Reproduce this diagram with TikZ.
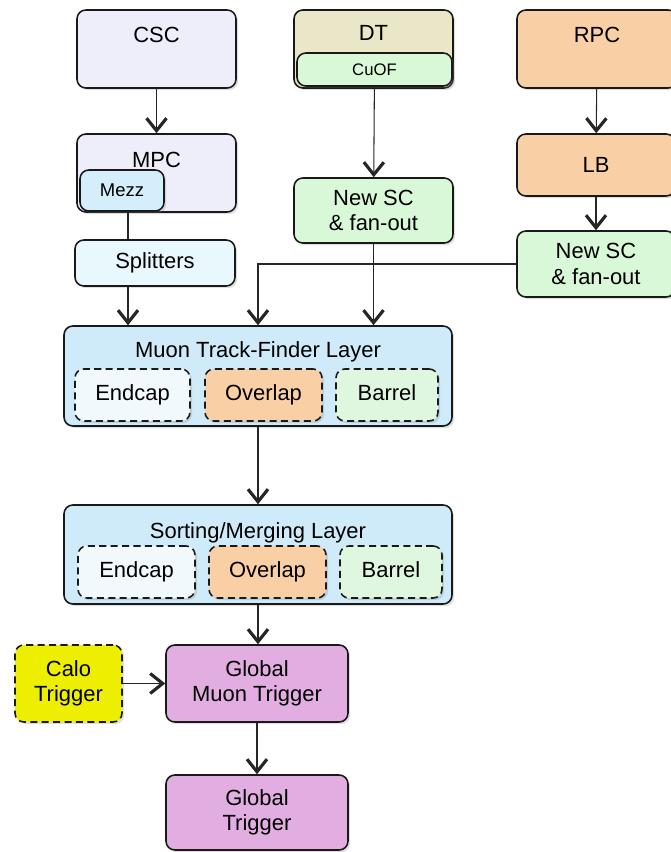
\documentclass[tikz,border=0pt]{standalone}
\usepackage{fontspec}
\setmainfont{Liberation Sans}
\usetikzlibrary{positioning,arrows.meta,shadows}

\definecolor{cscfill}{HTML}{EEEEFB}
\definecolor{dtfill}{HTML}{EAE6C8}
\definecolor{rpcfill}{HTML}{F9D0A6}
\definecolor{greenfill}{HTML}{D8F8D8}
\definecolor{mezzfill}{HTML}{D4EFFB}
\definecolor{splitfill}{HTML}{E8F8FC}
\definecolor{layerfill}{HTML}{CFEBFA}
\definecolor{endcapfill}{HTML}{F2F9FC}
\definecolor{barrelfill}{HTML}{DFF6DF}
\definecolor{calofill}{HTML}{EEEE00}
\definecolor{globalfill}{HTML}{E2AEE2}

\begin{document}
\begin{tikzpicture}[
    x=0.02cm, y=-0.02cm,
    box/.style={
        draw=black!90,
        line width=0.9pt,
        rounded corners=5pt,
        align=center,
        inner sep=1pt,
        font=\fontsize{12.5}{14.5}\selectfont,
        drop shadow={shadow xshift=1.2pt, shadow yshift=-1.2pt, opacity=0.25}
    },
    subbox/.style={
        box,
        dashed,
        dash pattern=on 4pt off 2.5pt,
        minimum height=1.04cm
    },
    slot/.style={
        subbox,
        text height=9pt,
        text depth=3pt
    },
    title/.style={
        font=\fontsize{12.5}{14.5}\selectfont,
        inner sep=0pt
    },
    link/.style={
        draw=black!85,
        line width=0.6pt
    },
    arrow/.style={
        link,
        -{Straight Barb[length=2.5mm, width=4mm, line width=1.8pt]}
    }
]
\useasboundingbox (0,0) rectangle (670,852);

\node[box, fill=cscfill, minimum width=3.18cm, minimum height=1.56cm] (csc) at (156.5,49) {};
\node[title] (csc-t) at (156.5,35) {CSC};

\node[box, fill=dtfill, minimum width=3.18cm, minimum height=1.56cm] (dt) at (373.5,49) {};
\node[title] (dt-t) at (373.5,33) {DT};
\node[box, fill=greenfill, minimum width=3.1cm, minimum height=0.66cm, font=\fontsize{9.5}{11}\selectfont] (cuof) at (374.5,69.5) {CuOF};

\node[box, fill=rpcfill, minimum width=3.2cm, minimum height=1.56cm] (rpc) at (597,49) {};
\node[title] (rpc-t) at (597,35) {RPC};

\node[box, fill=cscfill, minimum width=3.18cm, minimum height=1.56cm] (mpc) at (156.5,173) {};
\node[title] (mpc-t) at (156.5,160) {MPC};
\node[box, fill=mezzfill, minimum width=1.68cm, minimum height=0.82cm, font=\fontsize{10.5}{12}\selectfont] (mezz) at (122,190.5) {Mezz};

\node[box, fill=splitfill, minimum width=3.2cm, minimum height=0.92cm] (split) at (155,263) {Splitters};

\node[box, fill=greenfill, minimum width=3.18cm, minimum height=1.3cm] (newsc-dt) at (373.5,210.5) {New SC\\\& fan-out};

\node[box, fill=rpcfill, minimum width=3.16cm, minimum height=1.24cm] (lb) at (596,165) {LB};

\node[box, fill=greenfill, minimum width=3.16cm, minimum height=1.32cm] (newsc-rpc) at (596,264) {New SC\\\& fan-out};

\node[box, fill=layerfill, minimum width=7.76cm, minimum height=2cm] (mtf) at (258,376) {};
\node[title] (mtf-t) at (258,352) {Muon Track-Finder Layer};
\node[slot, fill=endcapfill, minimum width=2.3cm] (mtf-endcap) at (132.5,395) {Endcap};
\node[slot, fill=rpcfill, minimum width=2.34cm] (mtf-overlap) at (263.5,395) {Overlap};
\node[slot, fill=barrelfill, minimum width=2.04cm] (mtf-barrel) at (387,395) {Barrel};

\node[box, fill=layerfill, minimum width=7.76cm, minimum height=1.98cm] (sort) at (258,554.5) {};
\node[title] (sort-t) at (258,533) {Sorting/Merging Layer};
\node[slot, fill=endcapfill, minimum width=2.34cm] (sort-endcap) at (136.5,572) {Endcap};
\node[slot, fill=rpcfill, minimum width=2.34cm] (sort-overlap) at (267.5,572) {Overlap};
\node[slot, fill=barrelfill, minimum width=2.04cm] (sort-barrel) at (391,572) {Barrel};

\node[box, fill=globalfill, minimum width=3.64cm, minimum height=1.54cm] (gmt) at (257,683.5) {Global\\Muon Trigger};

\node[subbox, fill=calofill, minimum width=2.14cm, minimum height=1.54cm] (calo) at (68.5,683.5) {Calo\\Trigger};

\node[box, fill=globalfill, minimum width=3.64cm, minimum height=1.5cm] (gt) at (257,812.5) {Global\\Trigger};

\draw[arrow] (csc) -- (mpc);

\draw[link] ([xshift=1.2mm]mezz.south) -- ([xshift=1.2mm]mezz.south |- split.north);

\draw[arrow] ([xshift=1.2mm]mezz.south |- split.south) -- ([xshift=1.2mm]mezz.south |- mtf.north);

\draw[arrow] (cuof) -- (newsc-dt);

\draw[arrow] (newsc-dt) -- (newsc-dt.south |- mtf.north);

\draw[arrow] (rpc) -- (lb);

\draw[arrow] (lb) -- (newsc-rpc);

\draw[arrow] (newsc-rpc.west) -| (mtf.north);

\draw[arrow] (mtf) -- (sort);

\draw[arrow] (sort.south) -- (sort.south |- gmt.north);

\draw[arrow] (calo) -- (gmt);

\draw[arrow] (gmt) -- (gt);

\end{tikzpicture}
\end{document}
